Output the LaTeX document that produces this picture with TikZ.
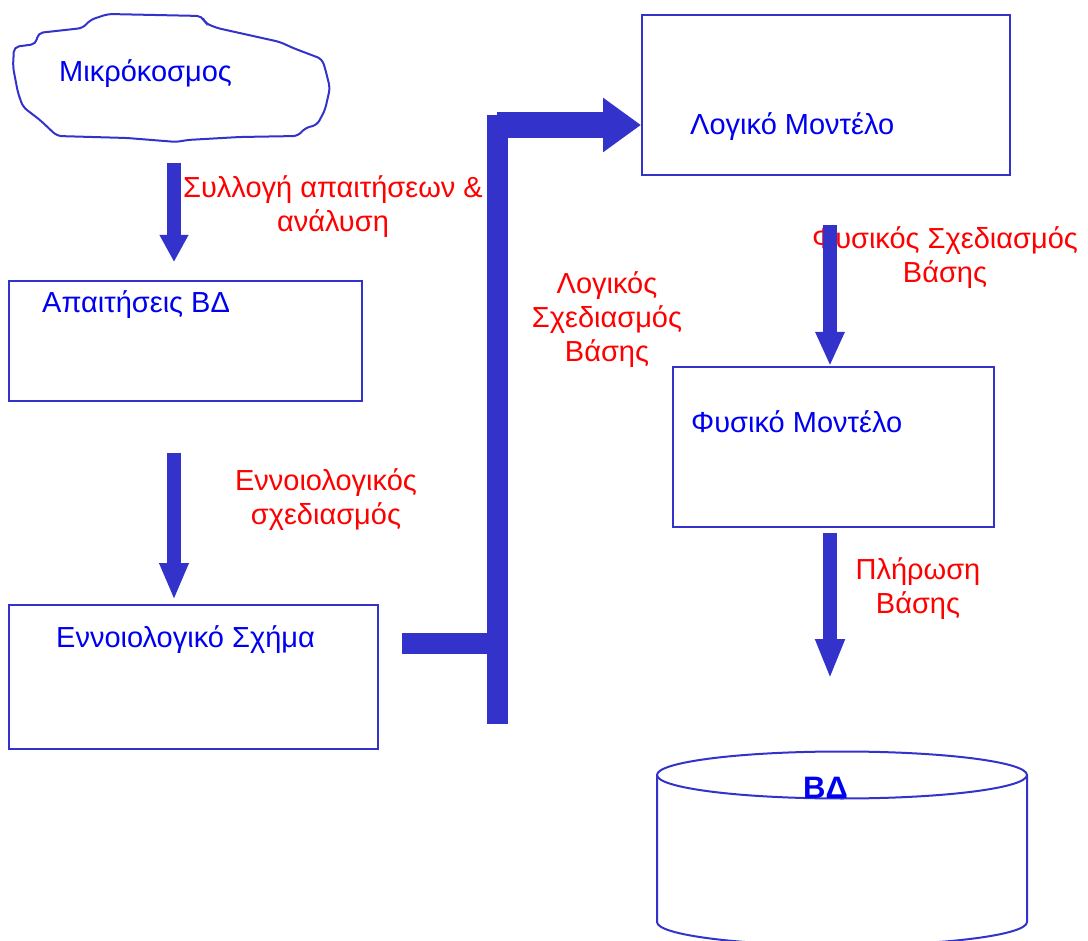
\documentclass[tikz,border=0pt]{standalone}
\usepackage{fontspec}
\setmainfont{Liberation Sans}
\usetikzlibrary{arrows.meta,positioning}
\definecolor{shapeblue}{RGB}{51,51,204}
\definecolor{textblue}{RGB}{0,0,240}
\newcommand{\bigfont}{\fontsize{29}{34}\selectfont}
\tikzset{
  box/.style={draw=shapeblue,line width=2pt,inner sep=0pt},
  boxtxt/.style={text=textblue,font=\bigfont,inner sep=0pt,anchor=base west},
  lbl/.style={text=red,font=\bigfont,align=center,inner sep=0pt,anchor=base},
  fat/.style={draw=shapeblue,line width=14pt,-{Triangle[width=27pt,length=#1]}},
  fat/.default=30pt,
  bar/.style={draw=shapeblue,line width=21pt}
}
\begin{document}
\begin{tikzpicture}[x=1pt,y=-1pt]
\useasboundingbox (0,0) rectangle (1088,941);
% cloud
\draw[shapeblue,line width=2pt,fill=white,rounded corners=5pt]
  (108,14) -- (202,16) -- (205,23) -- (217,28) -- (280,42) -- (293,48) -- (322,59)
  -- (325,68) -- (330,88) -- (325,110) -- (317,125) -- (305,128) -- (298,136)
  -- (240,137) -- (187,140) -- (177,142) -- (127,138) -- (57,136) -- (40,120)
  -- (23,107) -- (18,93) -- (13,67) -- (14,47) -- (36,44) -- (38,33) -- (83,28)
  -- (90,20) -- cycle;
\node[boxtxt] (micro) at (59,82) {Μικρόκοσμος};
% boxes
\node[box,minimum width=353pt,minimum height=120pt] (req) at (185.5,341) {};
\node[box,minimum width=369pt,minimum height=144pt] (concept) at (193.5,677) {};
\node[box,minimum width=368pt,minimum height=160pt] (logic) at (826,95) {};
\node[box,minimum width=321pt,minimum height=160pt] (phys) at (833.5,447) {};
\node[boxtxt] (reqtxt) at (42,313) {Απαιτήσεις ΒΔ};
\node[boxtxt] (concepttxt) at (56,647) {Εννοιολογικό Σχήμα};
\node[boxtxt] (logictxt) at (690,135) {Λογικό Μοντέλο};
\node[boxtxt] (phystxt) at (691,433) {Φυσικό Μοντέλο};
% database
\draw[shapeblue,line width=2pt] (657,775) -- (657,922)
  arc[start angle=180,end angle=360,x radius=185pt,y radius=23.5pt] -- (1027,775);
\draw[shapeblue,line width=2pt] (842,775) ellipse[x radius=185pt,y radius=23.5pt];
\node[boxtxt,font=\fontsize{31}{34}\selectfont\bfseries] (db) at (803,798) {ΒΔ};
% labels
\node[lbl] (l1) at (333,232) {Συλλογή απαιτήσεων \&\\ανάλυση};
\node[lbl] (l2) at (326,524) {Εννοιολογικός\\σχεδιασμός};
\node[lbl] (l3) at (607,362) {Λογικός\\Σχεδιασμός\\Βάσης};
\node[lbl] (l4) at (945,283) {Φυσικός Σχεδιασμός\\Βάσης};
\node[lbl] (l5) at (918,613) {Πλήρωση\\Βάσης};
% arrows
\coordinate (a1) at (174,163);
\coordinate (a2) at (174,453);
\coordinate (a3) at (830,225);
\coordinate (a4) at (830,679);
\draw[fat=27pt] (a1) -- ++(0,99);
\draw[fat=37pt] (a2) -- ++(0,147);
\draw[fat=34pt] (a3) -- (a3 |- phys.north);
\draw[fat=40pt,shorten <=5pt] (a3 |- phys.south) -- (a4);
\coordinate (top) at (497.5,115);
\coordinate (bot) at (497.5,724);
\coordinate (jn) at (497.5,643.5);
\coordinate (cs) at (402,643.5);
\draw[bar] (top) -- (bot);
\draw[bar] (cs) -- (jn);
\draw[draw=shapeblue,line width=26pt,-{Triangle[width=52pt,length=38pt]}]
  (497,125) -- (logic.west |- 0,125);
\end{tikzpicture}
\end{document}
